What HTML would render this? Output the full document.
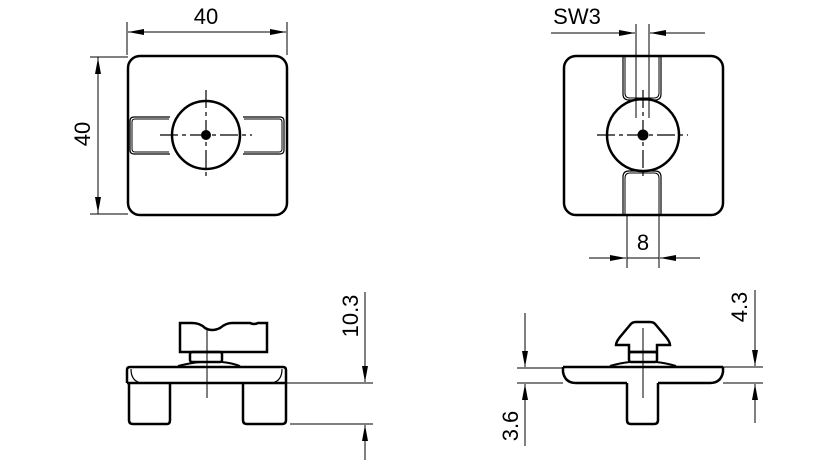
<!DOCTYPE html>
<html><head><meta charset="utf-8"><style>
html,body{margin:0;padding:0;background:#fff;}
svg{display:block;}
text{font-family:"Liberation Sans",sans-serif;fill:#000;}
</style></head><body>
<svg width="827" height="474" viewBox="0 0 827 474" xmlns="http://www.w3.org/2000/svg">
<defs>
<marker id="a" viewBox="0 0 16 6" refX="16" refY="3" markerWidth="16" markerHeight="6" markerUnits="userSpaceOnUse" orient="auto"><path d="M0,0 L16,3 L0,6z" fill="#000"/></marker>
</defs>
<g fill="none" stroke="#000">
<!-- top-left view -->
<rect x="128" y="56" width="159" height="159" rx="12" stroke-width="2.5"/>
<path d="M170,117 H134 Q130,117 130,121 V150 Q130,154 134,154 H170" stroke-width="1.2"/>
<path d="M169,119 H135 Q132,119 132,122 V149 Q132,152 135,152 H169" stroke-width="1"/>
<path d="M243,117 H280 Q284,117 284,121 V150 Q284,154 280,154 H243" stroke-width="1.2"/>
<path d="M244,119 H279 Q282,119 282,122 V149 Q282,152 279,152 H244" stroke-width="1"/>
<circle cx="206" cy="135" r="34" stroke-width="2.5"/>
<circle cx="206" cy="135" r="4.5" fill="#000"/>
<path d="M160,135 H252 M206,90 V180" stroke-width="1.2" stroke-dasharray="18,4,4,4"/>
<path d="M127,55 V22 M287,55 V22" stroke-width="1"/>
<path d="M160,32 H128" stroke-width="1" marker-end="url(#a)"/>
<path d="M250,32 H286" stroke-width="1" marker-end="url(#a)"/>
<path d="M128,32 H286" stroke-width="1"/>
<path d="M90,57 H128 M90,214 H128" stroke-width="1"/>
<path d="M98,57 V214" stroke-width="1"/>
<path d="M98,90 V58" stroke-width="1" marker-end="url(#a)"/>
<path d="M98,180 V213" stroke-width="1" marker-end="url(#a)"/>

<!-- top-right view -->
<rect x="564" y="56" width="159" height="159" rx="12" stroke-width="2.5"/>
<path d="M623,57 V94 Q623,100 629,100 H655 Q661,100 661,94 V57" stroke-width="1.2"/>
<path d="M625,57 V93 Q625,98 630,98 H654 Q659,98 659,93 V57" stroke-width="1"/>
<path d="M623,214 V177 Q623,171 629,171 H655 Q661,171 661,177 V214" stroke-width="1.2"/>
<path d="M625,214 V178 Q625,173 630,173 H654 Q659,173 659,178 V214" stroke-width="1"/>
<circle cx="643" cy="135" r="36" stroke-width="2.5"/>
<circle cx="643" cy="135" r="5" fill="#000"/>
<path d="M597,135 H688 M643,90 V180" stroke-width="1.2" stroke-dasharray="18,4,4,4"/>
<path d="M636,24 V118 M649,24 V118" stroke-width="1"/>
<path d="M551,33 H635" stroke-width="1" marker-end="url(#a)"/>
<path d="M705,33 H650" stroke-width="1" marker-end="url(#a)"/>
<path d="M627,215 V268 M659,215 V268" stroke-width="1"/>
<path d="M589,258 H626" stroke-width="1" marker-end="url(#a)"/>
<path d="M700,258 H660" stroke-width="1" marker-end="url(#a)"/>
<path d="M627,258 H659" stroke-width="1"/>

<!-- bottom-left view -->
<path d="M127,383 V370 Q127,367 130,367 H283 Q286,367 286,370 V383" stroke-width="2.5"/>
<path d="M131,369 Q131,381 141,383 M282,369 Q282,381 272,383" stroke-width="1.2"/>
<path d="M127,383 H286" stroke-width="2.5"/>
<path d="M129,383 V420 Q129,424 133,424 H167 Q170,424 170,420 V384" stroke-width="2.5"/>
<path d="M243,384 V420 Q243,424 247,424 H282 Q286,424 286,420 V383" stroke-width="2.5"/>
<path d="M178,366 Q190,363 200,362 H222 Q232,363 240,366" stroke-width="2"/>
<rect x="190" y="352" width="32" height="10" rx="2" stroke-width="2.5"/>
<path d="M180,352 V323 H192 Q200,323 205,328 Q212,332 220,328 Q226,323 232,323 H250 Q254,325 258,323 H267 V352 Z" stroke-width="2.5"/>
<path d="M207,330 V398" stroke-width="1"/>
<path d="M286,383 H373 M290,424 H373" stroke-width="1"/>
<path d="M365,292 V382" stroke-width="1" marker-end="url(#a)"/>
<path d="M365,460 V425" stroke-width="1" marker-end="url(#a)"/>

<!-- bottom-right view -->
<path d="M563,367 H723" stroke-width="2.5"/>
<path d="M723,367 V372 Q721,383 710,383 H658" stroke-width="2.5"/>
<path d="M563,367 V372 Q565,383 576,383 H627" stroke-width="2.5"/>
<path d="M627,383 V420 Q627,424 631,424 H654 Q658,424 658,420 V383" stroke-width="2.5"/>
<path d="M610,366 Q620,363 630,362 H656 Q666,363 676,366" stroke-width="2"/>
<rect x="629" y="352" width="28" height="10" rx="2" stroke-width="2.5"/>
<path d="M616,345 Q616,342 620,337 L630,325 Q632,322 636,322 H650 Q654,322 656,325 L666,337 Q670,342 670,345 H657 V352 H629 V345 Z" stroke-width="2.5"/>
<path d="M643,328 V398" stroke-width="1"/>
<path d="M517,368 H563 M517,383 H563" stroke-width="1"/>
<path d="M525,313 V367" stroke-width="1" marker-end="url(#a)"/>
<path d="M525,446 V384" stroke-width="1" marker-end="url(#a)"/>
<path d="M723,367 H763 M723,383 H763" stroke-width="1"/>
<path d="M755,290 V366" stroke-width="1" marker-end="url(#a)"/>
<path d="M755,423 V384" stroke-width="1" marker-end="url(#a)"/>
</g>
<text x="206" y="24" font-size="22" text-anchor="middle">40</text>
<text transform="translate(90,134) rotate(-90)" font-size="22" text-anchor="middle">40</text>
<text x="577" y="24" font-size="22" text-anchor="middle">SW3</text>
<text x="643" y="250" font-size="22" text-anchor="middle">8</text>
<text transform="translate(358,316) rotate(-90)" font-size="22" text-anchor="middle">10.3</text>
<text transform="translate(518,426) rotate(-90)" font-size="22" text-anchor="middle">3.6</text>
<text transform="translate(747,307) rotate(-90)" font-size="22" text-anchor="middle">4.3</text>
</svg>
</body></html>
